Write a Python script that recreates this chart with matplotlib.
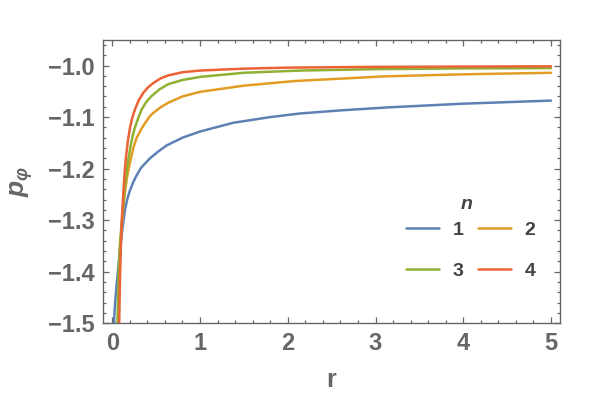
import matplotlib
matplotlib.use("Agg")
import matplotlib.pyplot as plt

# values
n_labels = ["1", "2", "3", "4"]
colors = ["#5E81B5", "#E19C24", "#8FB032", "#EB6235"]

r_n1 = [0.018, 0.025, 0.035, 0.05, 0.068, 0.087, 0.107, 0.125, 0.145, 0.17, 0.2, 0.24,
        0.278, 0.33, 0.43, 0.53, 0.62, 0.8, 1.0, 1.38, 1.8, 2.14, 2.6, 3.16, 4.0, 5.0]
p_n1 = [-1.51, -1.48, -1.455, -1.425, -1.393, -1.36, -1.33, -1.305, -1.28, -1.26, -1.243, -1.226,
        -1.213, -1.198, -1.18, -1.166, -1.155, -1.14, -1.128, -1.111, -1.10, -1.093, -1.087, -1.081, -1.074, -1.068]

r_n2 = [0.068, 0.075, 0.083, 0.093, 0.107, 0.125, 0.145, 0.17, 0.2, 0.24, 0.278, 0.335,
        0.373, 0.43, 0.467, 0.55, 0.64, 0.8, 1.0, 1.5, 2.08, 3.1, 4.0, 5.0]
p_n2 = [-1.51, -1.45, -1.40, -1.36, -1.315, -1.275, -1.245, -1.215, -1.19, -1.16, -1.14, -1.122,
        -1.112, -1.098, -1.092, -1.081, -1.072, -1.06, -1.051, -1.039, -1.030, -1.021, -1.017, -1.014]

r_n3 = [0.058, 0.065, 0.073, 0.083, 0.095, 0.107, 0.125, 0.145, 0.165, 0.185, 0.21, 0.235,
        0.259, 0.3, 0.335, 0.39, 0.449, 0.54, 0.64, 0.8, 1.0, 1.5, 2.14, 3.0, 4.0, 5.0]
p_n3 = [-1.51, -1.45, -1.40, -1.36, -1.33, -1.305, -1.27, -1.235, -1.205, -1.18, -1.155, -1.135,
        -1.12, -1.10, -1.085, -1.07, -1.059, -1.046, -1.036, -1.028, -1.022, -1.014, -1.0097, -1.007, -1.0055, -1.005]

r_n4 = [0.078, 0.085, 0.093, 0.102, 0.112, 0.125, 0.14, 0.155, 0.175, 0.203, 0.23, 0.259,
        0.3, 0.353, 0.41, 0.467, 0.55, 0.64, 0.8, 1.0, 1.5, 2.0, 3.0, 4.0, 5.0]
p_n4 = [-1.51, -1.44, -1.38, -1.33, -1.29, -1.25, -1.21, -1.18, -1.15, -1.12, -1.10, -1.085,
        -1.068, -1.053, -1.042, -1.034, -1.025, -1.019, -1.013, -1.0097, -1.006, -1.004, -1.0025, -1.002, -1.0015]

x_ticks = [0, 1, 2, 3, 4, 5]
y_ticks = [-1.5, -1.4, -1.3, -1.2, -1.1, -1.0]

plt.rcParams['font.family'] = ['Liberation Sans', 'DejaVu Sans']
plt.rcParams['mathtext.fontset'] = 'custom'
plt.rcParams['mathtext.it'] = 'Liberation Sans:bold:italic'
plt.rcParams['mathtext.rm'] = 'Liberation Sans:bold'
gray = "#666666"
dark = "#444444"

fig = plt.figure(figsize=(6, 3.98), dpi=100)
ax = fig.add_axes([0.171, 0.188, 0.762, 0.712])

series = [(r_n1, p_n1), (r_n2, p_n2), (r_n3, p_n3), (r_n4, p_n4)]
lines = []
for (r, p), lab, c in zip(series, n_labels, colors):
    ln, = ax.plot(r, p, color=c, lw=1.8, label=lab, solid_capstyle='round')
    lines.append(ln)

ax.set_xlim(-0.11, 5.1)
ax.set_ylim(-1.5, -0.95)
ax.set_xticks(x_ticks)
ax.set_yticks(y_ticks)
ax.set_yticklabels([f"\u2212{abs(v):.1f}" for v in y_ticks])
ax.set_xticks([i * 0.2 for i in range(26)], minor=True)
ax.set_yticks([-1.5 + i * 0.02 for i in range(28)], minor=True)

for s in ax.spines.values():
    s.set_color(gray)
    s.set_linewidth(1.0)
ax.tick_params(which='both', direction='in', top=True, right=True, color=gray, width=0.9)
ax.tick_params(which='major', length=4.5, labelsize=17, labelcolor=gray, pad=6)
ax.tick_params(which='minor', length=2.5)
for t in ax.get_xticklabels() + ax.get_yticklabels():
    t.set_fontweight('bold')

ax.set_xlabel("r", fontsize=18, fontweight='bold', color=gray, labelpad=10)
ax.set_ylabel(r"$p_{\varphi}$", fontsize=19, color=gray, labelpad=9)

# legend in the Mathematica row order: 1 2 / 3 4
order = [0, 2, 1, 3]
leg = fig.legend([lines[i] for i in order], [n_labels[i] for i in order],
                 ncol=2, frameon=False, loc='upper left',
                 bbox_to_anchor=(406 / 600, 1 - 221 / 398), bbox_transform=fig.transFigure,
                 borderaxespad=0, borderpad=0, fontsize=14,
                 handlelength=1.7, handletextpad=0.7, columnspacing=0.75,
                 labelspacing=1.2)
for t in leg.get_texts():
    t.set_fontweight('bold')
    t.set_color(dark)
fig.text(467 / 600, 1 - 205 / 398, "n", fontsize=14, fontweight='bold', fontstyle='italic',
         color=dark, ha='center', va='center')

fig.savefig("out.png", dpi=100)
